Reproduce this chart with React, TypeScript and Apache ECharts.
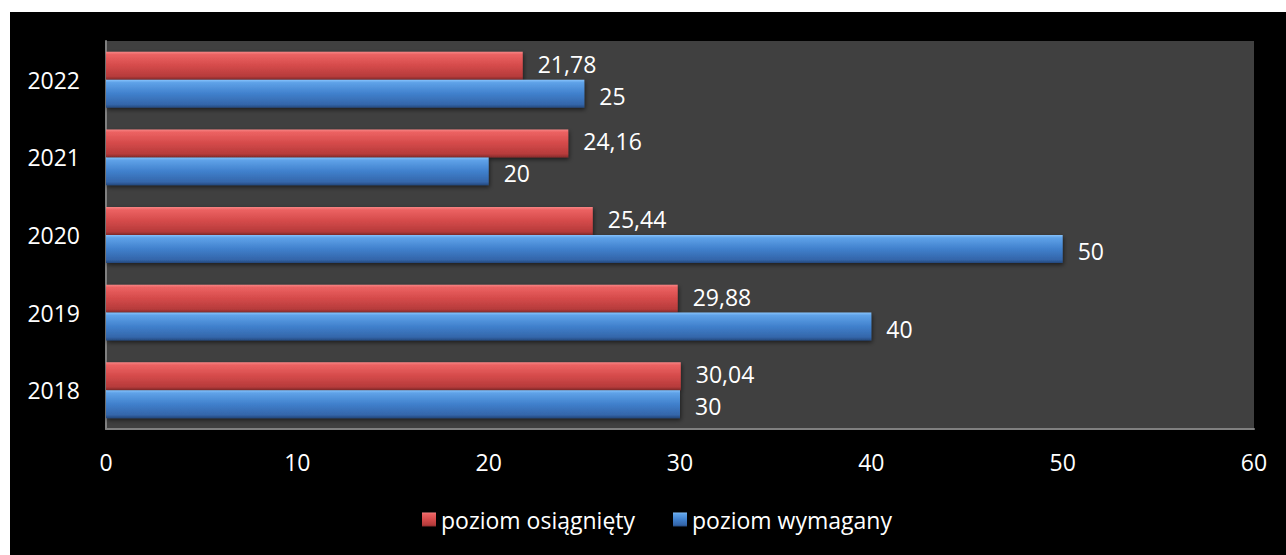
import React, { useEffect, useRef } from "react";
import * as echarts from "echarts";

const years = ["2018", "2019", "2020", "2021", "2022"];
const achieved = [30.04, 29.88, 25.44, 24.16, 21.78];
const required = [30, 40, 50, 20, 25];
const seriesNames = ["poziom osiągnięty", "poziom wymagany"];
const xTicks = { min: 0, max: 60, interval: 10 };

const FONT = "'Open Sans', 'Noto Sans', sans-serif";

const redGrad = new echarts.graphic.LinearGradient(0, 0, 0, 1, [
  { offset: 0, color: "#f78585" },
  { offset: 0.1, color: "#ec6262" },
  { offset: 0.5, color: "#d44a4a" },
  { offset: 0.88, color: "#b63b3b" },
  { offset: 1, color: "#862b2b" },
]);
const blueGrad = new echarts.graphic.LinearGradient(0, 0, 0, 1, [
  { offset: 0, color: "#86c2fb" },
  { offset: 0.1, color: "#5fa2e8" },
  { offset: 0.5, color: "#4080cc" },
  { offset: 0.88, color: "#3466aa" },
  { offset: 1, color: "#24487c" },
]);

const fmt = (v: number) => String(v).replace(".", ",");

export default function App() {
  const ref = useRef<HTMLDivElement>(null);
  useEffect(() => {
    document.body.style.margin = "0";
    const chart = echarts.init(ref.current!, null, { renderer: "svg" });
    const labelCfg = {
      show: true,
      position: "right" as const,
      distance: 15,
      color: "#ffffff",
      fontSize: 23,
      lineHeight: 22,
      fontFamily: FONT,
      formatter: (p: any) => fmt(p.value),
    };
    const shadow = {
      shadowColor: "rgba(0,0,0,0.55)",
      shadowBlur: 4,
      shadowOffsetY: 2,
      shadowOffsetX: 1,
    };
    chart.setOption({
      animation: false,
      backgroundColor: "#000000",
      grid: {
        left: 96,
        top: 29,
        width: 1148,
        height: 388,
        show: true,
        backgroundColor: "#404040",
        borderWidth: 0,
      },
      legend: {
        left: 407,
        top: 491,
        itemWidth: 14,
        itemHeight: 14,
        itemGap: 38,
        icon: "rect",
        textStyle: { color: "#ffffff", fontSize: 23, fontFamily: FONT },
        data: seriesNames,
      },
      xAxis: {
        type: "value",
        min: xTicks.min,
        max: xTicks.max,
        interval: xTicks.interval,
        axisLine: { show: true, lineStyle: { color: "#808080", width: 2 } },
        axisTick: { show: false },
        splitLine: { show: false },
        axisLabel: { color: "#ffffff", fontSize: 23, fontFamily: FONT, margin: 21 },
      },
      yAxis: {
        type: "category",
        data: years,
        axisLine: { show: true, lineStyle: { color: "#808080", width: 2 } },
        axisTick: { show: false },
        axisLabel: { color: "#ffffff", fontSize: 23, fontFamily: FONT, margin: 26 },
      },
      series: [
        {
          name: seriesNames[0],
          type: "bar",
          data: achieved,
          barGap: "0%",
          barCategoryGap: "28%",
          itemStyle: { color: redGrad, ...shadow },
          label: { ...labelCfg, offset: [0, -2] },
        },
        {
          name: seriesNames[1],
          type: "bar",
          data: required,
          barGap: "0%",
          barCategoryGap: "28%",
          itemStyle: { color: blueGrad, ...shadow },
          label: { ...labelCfg, offset: [0, 2] },
        },
      ],
    });
    return () => chart.dispose();
  }, []);
  return (
    <div style={{ position: "relative", width: 1286, height: 555, background: "#ffffff" }}>
      <div
        ref={ref}
        style={{ position: "absolute", left: 10, top: 12, width: 1276, height: 543 }}
      />
    </div>
  );
}
